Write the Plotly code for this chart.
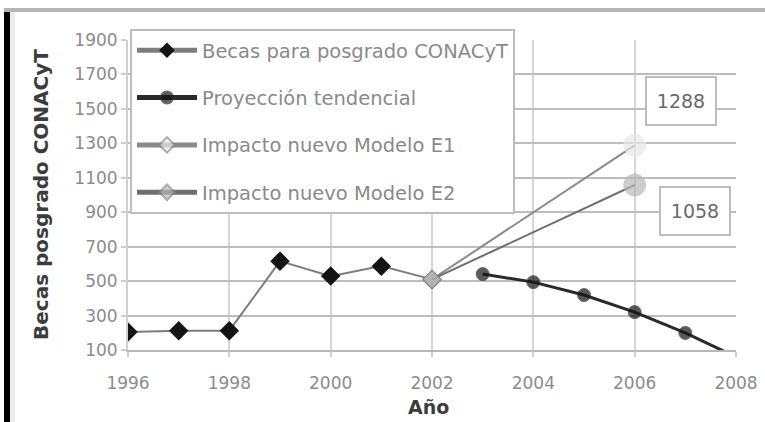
import plotly.graph_objects as go

# Becas de posgrado CONACyT, 1996-2008
years_bases = [1996, 1997, 1998, 1999, 2000, 2001, 2002]
bases = [205, 212, 212, 616, 529, 587, 510]

years_proy = [2003, 2004, 2005, 2006, 2007, 2008]
proyeccion = [541, 494, 419, 320, 199, 60]

years_modelo = [2002, 2006]
modelo_e1 = [510, 1288]
modelo_e2 = [510, 1058]

x_ticks = [1996, 1998, 2000, 2002, 2004, 2006, 2008]
y_ticks = [100, 300, 500, 700, 900, 1100, 1300, 1500, 1700, 1900]

FONT = "DejaVu Sans"
W, H = 765, 422
L, R, T, B = 128, 736, 40, 350  # plot area in pixels


def px_x(x):
    return (x - L) / (R - L)


def px_y(y):
    return (B - y) / (B - T)


fig = go.Figure()

fig.add_trace(go.Scatter(
    x=years_bases, y=bases, mode="lines+markers",
    name="Becas para posgrado CONACyT", legendgroup="a",
    line=dict(color="#7c7c7c", width=2),
    marker=dict(symbol="diamond", size=15, color="#141414"),
))
fig.add_trace(go.Scatter(
    x=years_proy, y=proyeccion, mode="lines+markers",
    name="Proyección tendencial", legendgroup="b",
    line=dict(color="#2a2a2a", width=3),
    marker=dict(symbol="circle", size=[13, 13, 13, 13, 13, 0], color="#141414"),
    cliponaxis=False,
))
fig.add_trace(go.Scatter(
    x=years_modelo, y=modelo_e1, mode="lines+markers",
    name="Impacto nuevo Modelo E1", legendgroup="c",
    line=dict(color="#8a8a8a", width=2),
    marker=dict(symbol=["diamond", "circle"], size=[14, 22], color="#e8e8e8",
                line=dict(color=["#8a8a8a", "#e8e8e8"], width=1)),
))
fig.add_trace(go.Scatter(
    x=years_modelo, y=modelo_e2, mode="lines+markers",
    name="Impacto nuevo Modelo E2", legendgroup="d",
    line=dict(color="#6e6e6e", width=2),
    marker=dict(symbol=["diamond", "circle"], size=[14, 22], color="#b8b8b8",
                line=dict(color=["#8a8a8a", "#b8b8b8"], width=1)),
))

# value boxes at the 2006 end points
box = dict(showarrow=False, font=dict(family=FONT, size=19, color="#6a6a6a"),
           bgcolor="white", bordercolor="#bdbdbd", borderwidth=2,
           width=66, height=44, xref="x", yref="y")
fig.add_annotation(x=years_modelo[-1], y=modelo_e1[-1], text=str(modelo_e1[-1]),
                   xshift=46, yshift=44, **box)
fig.add_annotation(x=years_modelo[-1], y=modelo_e2[-1], text=str(modelo_e2[-1]),
                   xshift=60, yshift=-26, **box)

# axis titles
fig.add_annotation(x=px_x(41), y=px_y(195), xref="paper", yref="paper",
                   xanchor="center", yanchor="middle",
                   text="Becas posgrado CONACyT", textangle=-90, showarrow=False,
                   font=dict(family=FONT, size=20, color="#3c3c3c", weight="bold"))
fig.add_annotation(x=px_x(428), y=px_y(407), xref="paper", yref="paper",
                   xanchor="center", yanchor="middle",
                   text="Año", showarrow=False,
                   font=dict(family=FONT, size=19, color="#3c3c3c", weight="bold"))

# page frame: dark left edge and grey top rule
fig.add_shape(type="rect", xref="paper", yref="paper",
              x0=px_x(4), x1=px_x(10), y0=px_y(12), y1=px_y(422),
              fillcolor="#000000", line_width=0, layer="above")
fig.add_shape(type="rect", xref="paper", yref="paper",
              x0=px_x(10), x1=px_x(15), y0=px_y(12), y1=px_y(422),
              fillcolor="#ededed", line_width=0, layer="above")
fig.add_shape(type="rect", xref="paper", yref="paper",
              x0=px_x(4), x1=px_x(765), y0=px_y(8), y1=px_y(12),
              fillcolor="#b5b5b5", line_width=0, layer="above")

tick_font = dict(family=FONT, size=17, color="#8c8c8c")

fig.update_xaxes(
    range=[1996, 2008], tickvals=x_ticks, ticktext=[str(v) for v in x_ticks],
    showgrid=True, gridcolor="#d6d6d6", gridwidth=2,
    showline=True, linecolor="#b8b8b8", linewidth=2,
    ticks="outside", ticklen=5, tickcolor="#cfcfcf", tickwidth=2,
    ticklabelstandoff=12,
    tickfont=tick_font, zeroline=False, automargin=False,
)
fig.update_yaxes(
    range=[100, 1900], tickvals=y_ticks, ticktext=[str(v) for v in y_ticks],
    showgrid=True, gridcolor="#bdbdbd", gridwidth=2,
    showline=True, linecolor="#d0d0d0", linewidth=2,
    ticks="outside", ticklen=5, tickcolor="#cfcfcf", tickwidth=2,
    tickfont=tick_font, zeroline=False, automargin=False,
)

fig.update_layout(
    width=W, height=H,
    margin=dict(l=L, r=W - R, t=T, b=H - B, autoexpand=False),
    paper_bgcolor="white", plot_bgcolor="white",
    showlegend=True,
    legend=dict(
        x=px_x(130), y=px_y(29), xanchor="left", yanchor="top",
        bgcolor="white", bordercolor="#bdbdbd", borderwidth=2,
        font=dict(family=FONT, size=19.5, color="#8a8a8a"),
        tracegroupgap=19, itemwidth=60, itemsizing="constant",
    ),
)

fig.write_html("out.html")
